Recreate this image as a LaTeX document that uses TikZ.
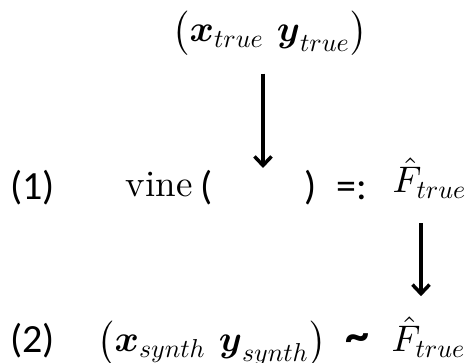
\documentclass[tikz,border=0pt]{standalone}
\usepackage{amsmath}
\usepackage{graphicx}
\usepackage[no-math]{fontspec}
\newfontfamily\calib{Carlito}
\usetikzlibrary{arrows.meta}
\newcommand\sbx[1]{_{\scalebox{0.7}{$#1$}}}
\tikzset{
  mbig/.style={inner sep=0pt, anchor=base west, scale=3.7, transform shape},
  sans/.style={inner sep=0pt, anchor=base west, font=\calib\fontsize{40}{46}\selectfont},
  arr/.style={line width=3.5pt, -{Straight Barb[length=9pt,width=17pt]}}
}
\begin{document}
\begin{tikzpicture}[x=1pt,y=-1pt]
\useasboundingbox (0,0) rectangle (472,363);
\node[mbig] (tup) at (172,42) {$\bigl(\boldsymbol{x}\sbx{true}\ \boldsymbol{y}\sbx{true}\bigr)$};
\node[sans] (n1) at (10,200) {(1)};
\node[mbig] (vine) at (125,197) {vine};
\node[sans] (lp) at (200,200) {(};
\node[sans] (rp) at (304,200) {)};
\node[sans] (def) at (336,200) {=:};
\node[mbig] (f1) at (392,193) {$\hat{F}\sbx{true}$};
\coordinate (slot) at (263,168);
\coordinate (a2) at (421,292);
\node[sans] (n2) at (10,353) {(2)};
\node[mbig] (tup2) at (97,352) {$\bigl(\boldsymbol{x}\sbx{synth}\ \boldsymbol{y}\sbx{synth}\bigr)$};
\node[sans, font=\calib\bfseries\fontsize{48}{52}\selectfont] (tilde) at (345,352) {\textasciitilde};
\node[mbig] (f2) at (391,352) {$\hat{F}\sbx{true}$};
\draw[arr, shorten <=18pt] (tup.south -| slot) -- (slot);
\draw[arr, shorten <=24pt, shorten >=20pt] (f1.south -| a2) -- (f2.north -| a2);
\end{tikzpicture}
\end{document}
